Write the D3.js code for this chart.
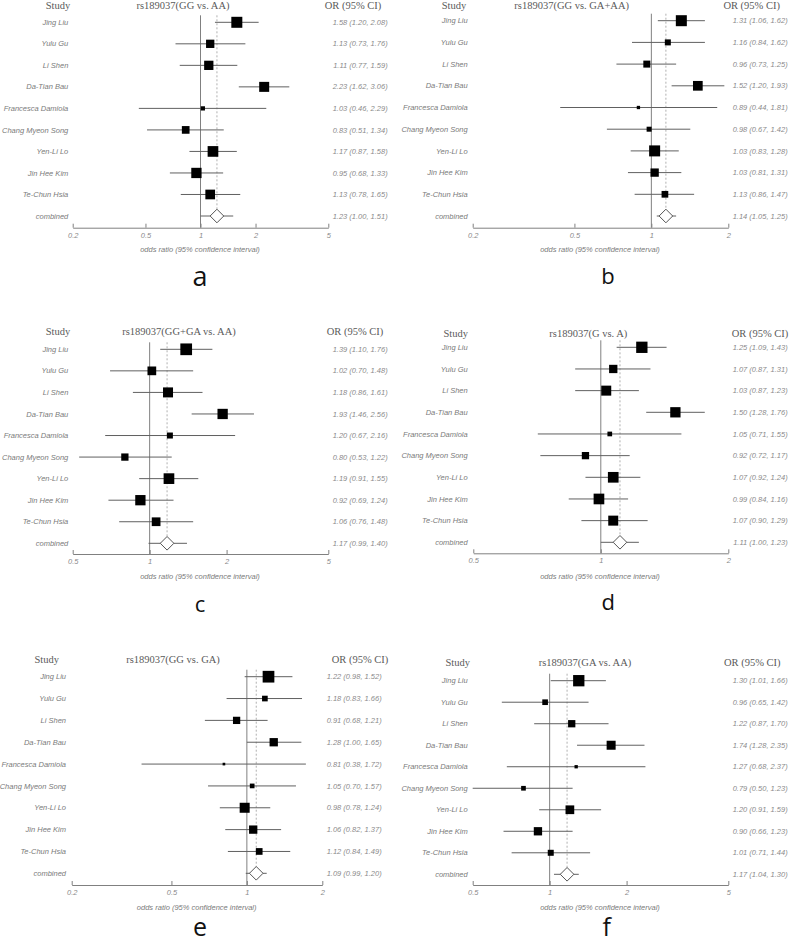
<!DOCTYPE html>
<html>
<head>
<meta charset="utf-8">
<script src="https://cdn.jsdelivr.net/npm/d3@7"></script>
<style>
  html, body { margin: 0; padding: 0; background: #fff; }
  svg { display: block; }
</style>
</head>
<body>
<svg id="chart" width="789" height="943"></svg>
<script>
// ---------------- DATA ----------------
const studies = ["Jing Liu", "Yulu Gu", "Li Shen", "Da-Tian Bau", "Francesca Damiola",
  "Chang Myeon Song", "Yen-Li Lo", "Jin Hee Kim", "Te-Chun Hsia", "combined"];

const titles = ["rs189037(GG vs. AA)", "rs189037(GG vs. GA+AA)", "rs189037(GG+GA vs. AA)",
  "rs189037(G vs. A)", "rs189037(GG vs. GA)", "rs189037(GA vs. AA)"];
const panelLetters = ["a", "b", "c", "d", "e", "f"];

// odds ratios, lower / upper 95% CI (last entry = combined)
const orA   = [1.58, 1.13, 1.11, 2.23, 1.03, 0.83, 1.17, 0.95, 1.13, 1.23];
const lowA  = [1.20, 0.73, 0.77, 1.62, 0.46, 0.51, 0.87, 0.68, 0.78, 1.00];
const highA = [2.08, 1.76, 1.59, 3.06, 2.29, 1.34, 1.58, 1.33, 1.65, 1.51];

const orB   = [1.31, 1.16, 0.96, 1.52, 0.89, 0.98, 1.03, 1.03, 1.13, 1.14];
const lowB  = [1.06, 0.84, 0.73, 1.20, 0.44, 0.67, 0.83, 0.81, 0.86, 1.05];
const highB = [1.62, 1.62, 1.25, 1.93, 1.81, 1.42, 1.28, 1.31, 1.47, 1.25];

const orC   = [1.39, 1.02, 1.18, 1.93, 1.20, 0.80, 1.19, 0.92, 1.06, 1.17];
const lowC  = [1.10, 0.70, 0.86, 1.46, 0.67, 0.53, 0.91, 0.69, 0.76, 0.99];
const highC = [1.76, 1.48, 1.61, 2.56, 2.16, 1.22, 1.55, 1.24, 1.48, 1.40];

const orD   = [1.25, 1.07, 1.03, 1.50, 1.05, 0.92, 1.07, 0.99, 1.07, 1.11];
const lowD  = [1.09, 0.87, 0.87, 1.28, 0.71, 0.72, 0.92, 0.84, 0.90, 1.00];
const highD = [1.43, 1.31, 1.23, 1.76, 1.55, 1.17, 1.24, 1.16, 1.29, 1.23];

const orE   = [1.22, 1.18, 0.91, 1.28, 0.81, 1.05, 0.98, 1.06, 1.12, 1.09];
const lowE  = [0.98, 0.83, 0.68, 1.00, 0.38, 0.70, 0.78, 0.82, 0.84, 0.99];
const highE = [1.52, 1.66, 1.21, 1.65, 1.72, 1.57, 1.24, 1.37, 1.49, 1.20];

const orF   = [1.30, 0.96, 1.22, 1.74, 1.27, 0.79, 1.20, 0.90, 1.01, 1.17];
const lowF  = [1.01, 0.65, 0.87, 1.28, 0.68, 0.50, 0.91, 0.66, 0.71, 1.04];
const highF = [1.66, 1.42, 1.70, 2.35, 2.37, 1.23, 1.59, 1.23, 1.44, 1.30];

// study weights (relative)
const weightA = [121, 69, 86, 100, 18, 59, 114, 106, 94];
const weightB = [121, 36, 49, 94, 11, 25, 121, 69, 45];
const weightC = [137, 76, 100, 106, 36, 53, 114, 106, 76];
const weightD = [128, 69, 100, 106, 22, 53, 114, 114, 100];
const weightE = [137, 32, 53, 69, 7, 22, 100, 69, 45];
const weightF = [128, 32, 53, 81, 11, 22, 76, 69, 36];

// axis domains and tick labels
const domainA = [0.2, 5], ticksA = [0.2, 0.5, 1, 2, 5];
const domainB = [0.2, 2], ticksB = [0.2, 0.5, 1, 2];
const domainC = [0.5, 5], ticksC = [0.5, 1, 2, 5];
const domainD = [0.5, 2], ticksD = [0.5, 1, 2];
const domainE = [0.2, 2], ticksE = [0.2, 0.5, 1, 2];
const domainF = [0.5, 5], ticksF = [0.5, 1, 2, 5];

const headerStudy = "Study";
const headerOR = "OR (95% CI)";
const axisTitle = "odds ratio (95% confidence interval)";

// ---------------- LAYOUT (positions only) ----------------
const layouts = [
  {x0: 72.7, x1: 328.3, rowTop: 22.3, rowBot: 216, axisY: 227.7, headY: 9, labelR: 68.3, orR: 387.7,
   studyCx: 58, titleCx: 183, orCx: 353, axTitleCx: 200, axTitleY: 249, letterX: 200, letterY: 286, letterSize: 27},
  {x0: 472.7, x1: 728.3, rowTop: 20.7, rowBot: 216, axisY: 227.7, headY: 9, labelR: 467.7, orR: 787.7,
   studyCx: 454, titleCx: 571.7, orCx: 751.7, axTitleCx: 600, axTitleY: 249, letterX: 608, letterY: 284.3, letterSize: 22},
  {x0: 72.7, x1: 328.3, rowTop: 349.3, rowBot: 543.3, axisY: 554, headY: 335.3, labelR: 68.3, orR: 387.7,
   studyCx: 58, titleCx: 179, orCx: 355, axTitleCx: 200, axTitleY: 576.7, letterX: 200, letterY: 611.7, letterSize: 22},
  {x0: 473.3, x1: 728.3, rowTop: 347.3, rowBot: 542.3, axisY: 553.3, headY: 337, labelR: 467.7, orR: 787.7,
   studyCx: 455.7, titleCx: 588.3, orCx: 760, axTitleCx: 600, axTitleY: 576, letterX: 608.3, letterY: 610, letterSize: 22},
  {x0: 71.7, x1: 322.3, rowTop: 676.7, rowBot: 873.3, axisY: 885, headY: 663, labelR: 66, orR: 381.7,
   studyCx: 46.7, titleCx: 173, orCx: 360, axTitleCx: 196.7, axTitleY: 907.3, letterX: 200, letterY: 936, letterSize: 25},
  {x0: 472.7, x1: 728.3, rowTop: 680.7, rowBot: 874.3, axisY: 885, headY: 666.3, labelR: 467.7, orR: 787.7,
   studyCx: 457.7, titleCx: 585, orCx: 752.3, axTitleCx: 600, axTitleY: 907.3, letterX: 606.7, letterY: 936, letterSize: 25}
];

const panels = [
  {or: orA, low: lowA, high: highA, w: weightA, domain: domainA, ticks: ticksA},
  {or: orB, low: lowB, high: highB, w: weightB, domain: domainB, ticks: ticksB},
  {or: orC, low: lowC, high: highC, w: weightC, domain: domainC, ticks: ticksC},
  {or: orD, low: lowD, high: highD, w: weightD, domain: domainD, ticks: ticksD},
  {or: orE, low: lowE, high: highE, w: weightE, domain: domainE, ticks: ticksE},
  {or: orF, low: lowF, high: highF, w: weightF, domain: domainF, ticks: ticksF}
];

// ---------------- DRAW ----------------
const svg = d3.select("#chart");
const sans = "'Liberation Sans', Arial, sans-serif";
const serif = "'Liberation Serif', 'Times New Roman', serif";
const fmt = d3.format(".2f");
const boxSize = d3.scaleSqrt().domain([0, 100]).range([0, 10]);
const DIAMOND = 6.8;

panels.forEach((p, i) => {
  const L = layouts[i];
  const g = svg.append("g");
  const x = d3.scaleLog().domain(p.domain).range([L.x0, L.x1]);
  const y = d3.scalePoint().domain(studies).range([L.rowTop, L.rowBot]);
  const comb = studies.length - 1;
  const lineTop = L.rowTop - 7;

  // headers
  const head = g.append("g").attr("font-family", serif).attr("font-size", 10.5)
    .attr("font-weight", "normal").attr("fill", "#5a5a5a").attr("text-anchor", "middle");
  head.append("text").attr("x", L.studyCx).attr("y", L.headY).text(headerStudy);
  head.append("text").attr("x", L.titleCx).attr("y", L.headY).text(titles[i]);
  head.append("text").attr("x", L.orCx).attr("y", L.headY).text(headerOR);

  // reference line at OR = 1
  g.append("line")
    .attr("x1", x(1)).attr("x2", x(1))
    .attr("y1", lineTop).attr("y2", L.axisY)
    .attr("stroke", "#808080").attr("stroke-width", 1);

  // dashed line at combined estimate
  g.append("line")
    .attr("x1", x(p.or[comb])).attr("x2", x(p.or[comb]))
    .attr("y1", lineTop).attr("y2", y(studies[comb]))
    .attr("stroke", "#b0b0b0").attr("stroke-width", 1)
    .attr("stroke-dasharray", "2,2");

  // CI lines
  g.append("g").selectAll("line").data(studies).join("line")
    .attr("x1", (d, j) => x(p.low[j]))
    .attr("x2", (d, j) => x(p.high[j]))
    .attr("y1", d => y(d)).attr("y2", d => y(d))
    .attr("stroke", "#606060").attr("stroke-width", 1);

  // study boxes
  g.append("g").selectAll("rect").data(studies.slice(0, comb)).join("rect")
    .attr("x", (d, j) => x(p.or[j]) - boxSize(p.w[j]) / 2)
    .attr("y", (d, j) => y(d) - boxSize(p.w[j]) / 2)
    .attr("width", (d, j) => boxSize(p.w[j]))
    .attr("height", (d, j) => boxSize(p.w[j]))
    .attr("fill", "#000");

  // combined diamond
  const cx = x(p.or[comb]), cy = y(studies[comb]);
  g.append("path")
    .attr("d", `M${cx - DIAMOND},${cy}L${cx},${cy - DIAMOND}L${cx + DIAMOND},${cy}L${cx},${cy + DIAMOND}Z`)
    .attr("fill", "#fff").attr("stroke", "#555").attr("stroke-width", 1);

  // study labels
  g.append("g").attr("font-family", sans).attr("font-size", 7.5).attr("font-style", "italic")
    .attr("fill", "#7a7a7a").attr("text-anchor", "end")
    .selectAll("text").data(studies).join("text")
    .attr("x", L.labelR).attr("y", d => y(d)).attr("dy", "0.35em").text(d => d);

  // OR texts
  g.append("g").attr("font-family", sans).attr("font-size", 7.5).attr("font-style", "italic")
    .attr("fill", "#8a8a8a").attr("text-anchor", "end")
    .selectAll("text").data(studies).join("text")
    .attr("x", L.orR).attr("y", d => y(d)).attr("dy", "0.35em")
    .text((d, j) => `${fmt(p.or[j])} (${fmt(p.low[j])}, ${fmt(p.high[j])})`);

  // axis
  const axis = d3.axisBottom(x).tickValues(p.ticks).tickFormat(d3.format("~g"))
    .tickSizeInner(-4).tickSizeOuter(0).tickPadding(4.5);
  const ag = g.append("g").attr("transform", `translate(0,${L.axisY})`).call(axis);
  ag.select(".domain").attr("stroke", "#808080");
  ag.selectAll(".tick line").attr("stroke", "#808080");
  ag.selectAll(".tick text").attr("font-family", sans).attr("font-size", 7.5)
    .attr("font-style", "italic").attr("fill", "#8a8a8a");

  // axis title
  g.append("text").attr("x", L.axTitleCx).attr("y", L.axTitleY).attr("dy", "0.35em")
    .attr("text-anchor", "middle").attr("font-family", sans).attr("font-size", 7.5)
    .attr("font-style", "italic").attr("fill", "#7a7a7a").text(axisTitle);

  // panel letter
  g.append("text").attr("x", L.letterX).attr("y", L.letterY)
    .attr("text-anchor", "middle").attr("font-family", "'Open Sans', 'Noto Sans', sans-serif")
    .attr("font-size", L.letterSize).attr("fill", "#111").text(panelLetters[i]);
});
</script>
</body>
</html>
